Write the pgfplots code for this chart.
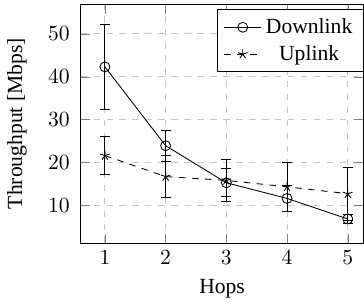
\documentclass[border=0pt]{standalone}
\usepackage{fontspec}
\setmainfont{Liberation Serif}
\usepackage{pgfplots}
\pgfplotsset{compat=1.18}
\begin{document}
\begin{tikzpicture}
\begin{axis}[
  scale only axis,
  width=131pt, height=110.5pt,
  xmin=0.6, xmax=5.26,
  ymin=1.2, ymax=56.9,
  xtick={1,2,3,4,5},
  ytick={10,20,30,40,50},
  grid=major,
  grid style={dashed, gray!45},
  xlabel={Hops},
  ylabel={Throughput [Mbps]},
  ylabel style={yshift=3pt},
  yticklabel style={xshift=-1.5pt},
  legend style={at={(1,0.98)}, anchor=north east},
  legend cell align=center,
  tick align=inside,
]
\addplot[black, solid, mark=o, mark size=2.3pt, error bars/.cd, y dir=both, y explicit]
  coordinates {
    (1,42.3) +- (0,9.85)
    (2,23.9) +- (0,3.6)
    (3,15.25) +- (0,3.25)
    (4,11.6) +- (0,3.0)
    (5,6.8) +- (0,1.0)
  };
\addlegendentry{Downlink}
\addplot[black, dashed, mark=star, mark size=2.3pt, mark options={solid}, error bars/.cd, y dir=both, y explicit, error bar style={solid}]
  coordinates {
    (1,21.6) +- (0,4.35)
    (2,16.7) +- (0,4.9)
    (3,15.8) +- (0,5.0)
    (4,14.3) +- (0,5.7)
    (5,12.7) +- (0,6.2)
  };
\addlegendentry{Uplink}
\end{axis}
\path ([yshift=2pt]current axis.north west);
\end{tikzpicture}
\end{document}
